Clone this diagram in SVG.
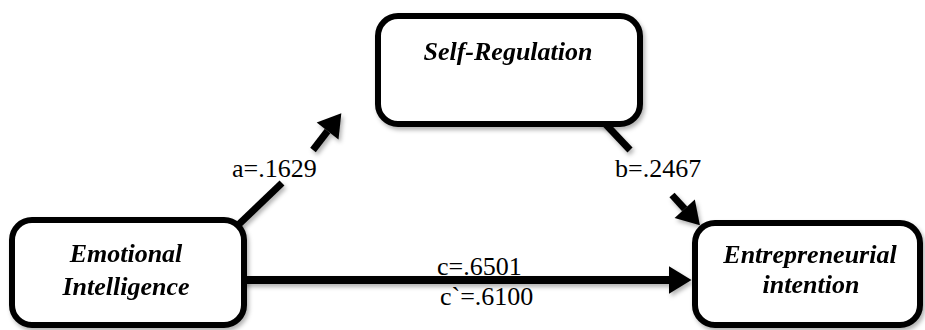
<svg xmlns="http://www.w3.org/2000/svg" width="925" height="330" viewBox="0 0 925 330">
<style>
.box{fill:#fff;stroke:#000;stroke-width:6}
.node-text{font-family:"Liberation Serif","Times New Roman",serif;font-size:26px;font-weight:bold;font-style:italic;fill:#000;text-anchor:middle}
.lbl{font-family:"Liberation Serif","Times New Roman",serif;font-size:26px;fill:#000}
.conn{stroke:#000;fill:none;stroke-linecap:butt}
</style>
<defs>
<filter id="sh" x="-10%" y="-10%" width="130%" height="140%">
<feDropShadow dx="2" dy="3" stdDeviation="2" flood-color="#000" flood-opacity="0.3"/>
</filter>
<marker id="ah" markerUnits="userSpaceOnUse" markerWidth="30" markerHeight="30" viewBox="0 -12 20 24" refX="0" refY="0" orient="auto">
<path d="M0,-11 L18,0 L0,11 z" fill="#000"/>
</marker>
</defs>
<g id="connectors" filter="url(#sh)">
<line class="conn" x1="236" y1="227" x2="282" y2="183" stroke-width="7"/>
<line class="conn" x1="313" y1="150" x2="327.6" y2="131" stroke-width="7" marker-end="url(#ah)"/>
<line class="conn" x1="596" y1="114" x2="630" y2="150" stroke-width="7"/>
<line class="conn" x1="672" y1="195" x2="684.7" y2="208.8" stroke-width="7" marker-end="url(#ah)"/>
<line class="conn" x1="240" y1="280" x2="669" y2="280" stroke-width="8" marker-end="url(#ah)"/>
</g>
<g id="node-self-regulation" filter="url(#sh)">
<rect class="box" x="378" y="16" width="262" height="108" rx="20"/>
<text class="node-text" x="508" y="60">Self-Regulation</text>
</g>
<g id="node-emotional-intelligence" filter="url(#sh)">
<rect class="box" x="12" y="220" width="232" height="105" rx="20"/>
<text class="node-text" x="126" y="262">Emotional</text>
<text class="node-text" x="126" y="295">Intelligence</text>
</g>
<g id="node-entrepreneurial-intention" filter="url(#sh)">
<rect class="box" x="695" y="223" width="225" height="102" rx="20"/>
<text class="node-text" x="810" y="263">Entrepreneurial</text>
<text class="node-text" x="811" y="293">intention</text>
</g>
<g id="labels">
<text class="lbl" x="232" y="177">a=.1629</text>
<text class="lbl" x="615" y="177">b=.2467</text>
<text class="lbl" x="437" y="275">c=.6501</text>
<text class="lbl" x="440" y="305">c`=.6100</text>
</g>
</svg>
